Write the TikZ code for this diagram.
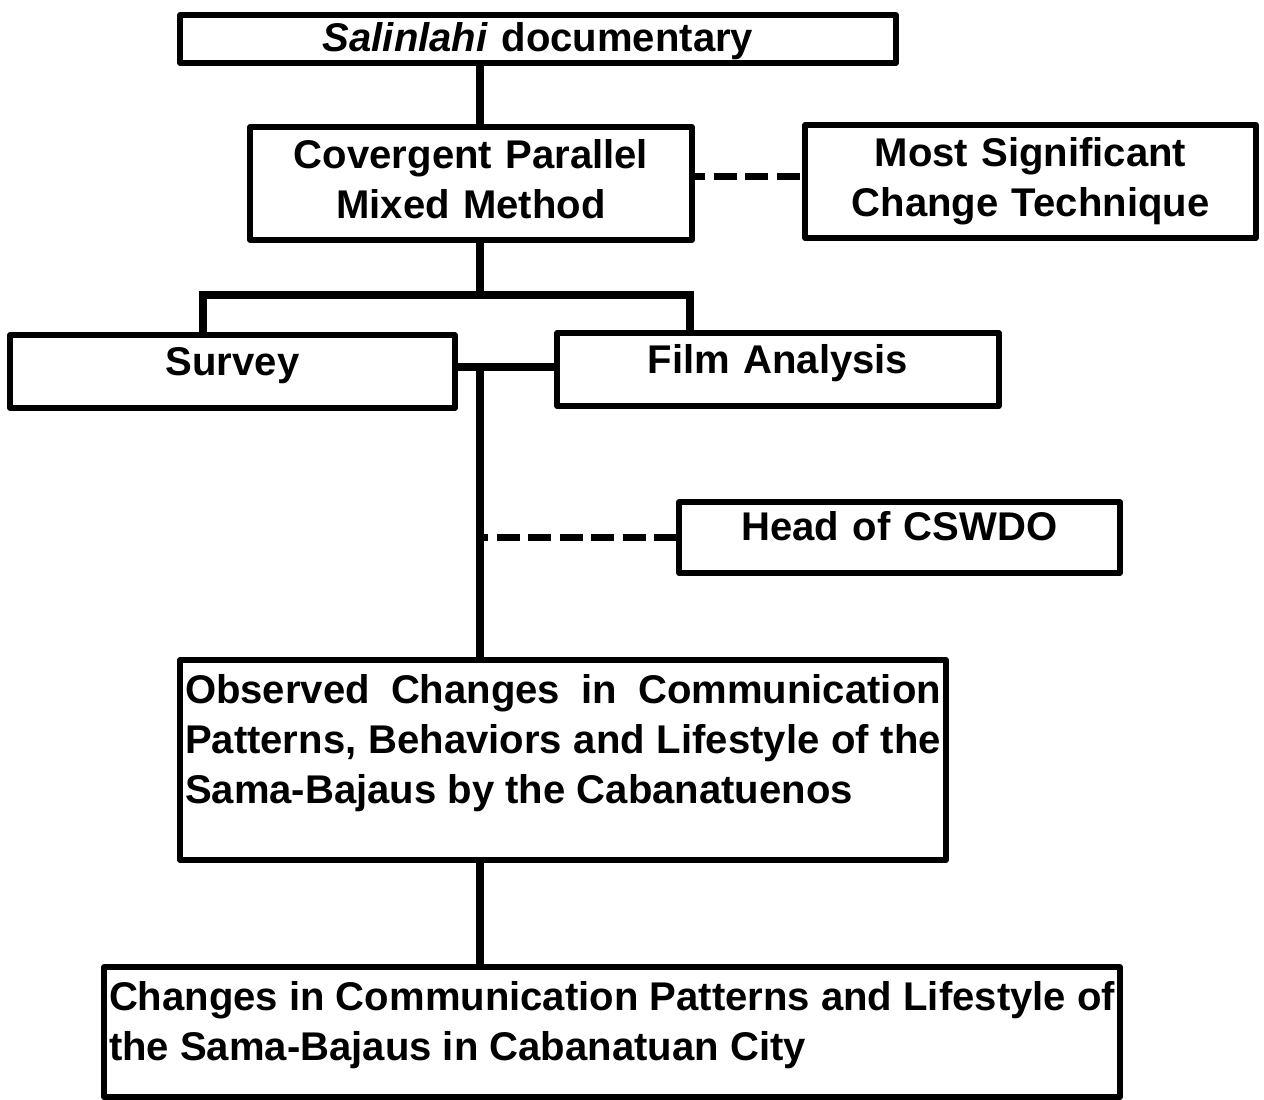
\documentclass[tikz,border=0pt]{standalone}
\usepackage{fontspec}
\setmainfont{Liberation Sans}

\begin{document}
\begin{tikzpicture}[
  box/.style={draw, line width=3.2pt, line join=round, inner xsep=0.1cm,
    inner ysep=0pt, outer sep=0pt, anchor=north west, align=center,
    font=\fontsize{22.8}{28.45}\selectfont\bfseries},
  link/.style={line width=4.1pt},
  dlink/.style={line width=4.3pt, dash pattern=on 0.46cm off 0.17cm}]

\useasboundingbox (0,0) rectangle (25.28,22);

\def\xt{9.6}
\coordinate (trunk) at (\xt,0);

%=== Блоки ===
\node[box, text width=14.12cm, text height=0.74cm, text depth=0.22cm]
  (doc) at (3.6,21.7) {\textit{Salinlahi} documentary};
\node[box, text width=8.64cm, text height=0.84cm, text depth=1.42cm]
  (mixed) at (5.0,19.46) {Covergent Parallel\\Mixed Method};
\node[box, text width=8.82cm, text height=0.84cm, text depth=1.42cm]
  (msc) at (16.1,19.5) {Most Significant\\Change Technique};
\node[box, text width=8.7cm, text height=0.82cm, text depth=0.64cm]
  (survey) at (0.2,15.3) {Survey};
\node[box, text width=8.64cm, text height=0.82cm, text depth=0.64cm]
  (film) at (11.14,15.34) {Film Analysis};
\node[box, text width=8.62cm, text height=0.78cm, text depth=0.64cm]
  (head) at (13.58,11.96) {Head of CSWDO};
\node[box, align=justify, text width=15.12cm, text height=0.88cm, text depth=3.12cm]
  (observed) at (3.6,8.8)
  {Observed Changes in Communication\linebreak
   Patterns, Behaviors and Lifestyle of the\linebreak
   Sama-Bajaus by the Cabanatuenos};
\node[box, align=justify, text width=20.12cm, text height=0.88cm, text depth=1.72cm]
  (result) at (2.08,2.66)
  {Changes in Communication Patterns and Lifestyle of\linebreak
   the Sama-Bajaus in Cabanatuan City};

%=== Связи ===
\coordinate (split) at (\xt,16.1);
\coordinate (lbranch) at (4.06,16.1);
\coordinate (rbranch) at (13.8,16.1);
\coordinate (hub) at (\xt,14.66);
\coordinate (mtap) at ([yshift=-0.99cm]mixed.north east);

\draw[link] (doc.south -| trunk) -- (mixed.north -| trunk);
\draw[dlink, dash phase=0.2cm] (mtap) -- (mtap -| msc.west);

% развилка к Survey и Film Analysis
\draw[link] (mixed.south -| trunk) -- (split);
\draw[link] (survey.north -| lbranch) -- (lbranch) -- (rbranch) -- (film.north -| rbranch);
\draw[link] (survey.east |- hub) -- (film.west |- hub);

% главный ствол
\draw[link] (hub) -- (observed.north -| trunk);
\draw[dlink, dash phase=0.3cm] (head.west -| trunk) -- (head.west);
\draw[link] (observed.south -| trunk) -- (result.north -| trunk);

\end{tikzpicture}
\end{document}
